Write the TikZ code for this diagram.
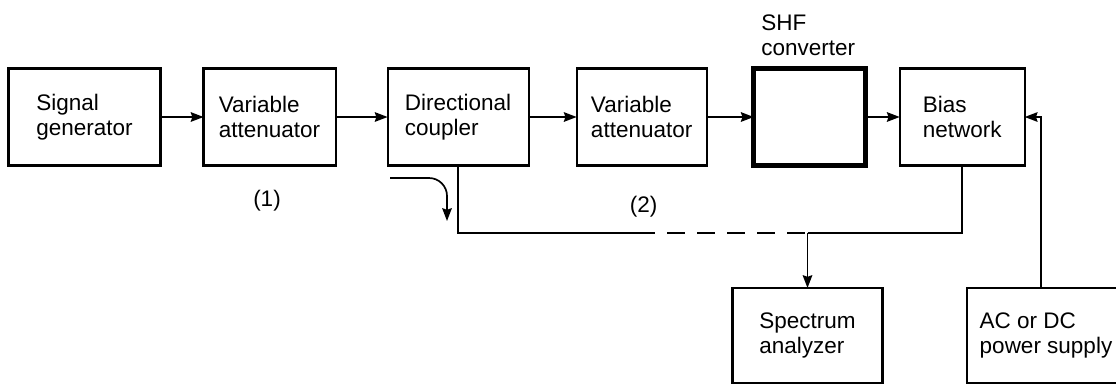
\documentclass[tikz,border=0pt]{standalone}
\usepackage{fontspec}
\setmainfont{Liberation Sans}
\usetikzlibrary{
  arrows.meta,
  positioning,  % right=of x
}
\tikzset{
  font=\fontsize{16}{17.5}\selectfont,
  >={Stealth[length=3.2mm,width=2.4mm,inset=0.4mm]},
  my box/.style={
    draw,
    line width=1.5pt,
    rectangle,
    align=left,
    minimum height=2.425cm,
    inner sep=0mm,
    outer sep=0mm
  },
  my thick box/.style={
    my box,
    line width=3.2pt
  },
  my line/.style={
    line width=1.2pt
  },
  my label/.style={
    inner sep=0.5mm,
    align=left
  },
  my dashes/.style={
    dash pattern=on 0.45cm off 0.3cm,
    dash phase=0.45cm
  }
}

\begin{document}
\begin{tikzpicture}[x=0.025cm,y=-0.025cm,my line]
\useasboundingbox (0,0) rectangle (1116,384);
\clip (0,0) rectangle (1116,384);
% upper chain
\node[my box,minimum width=3.8cm] (sg) at (84.5,117) {Signal\\generator};
\node[my box,minimum width=3.3cm] (va1) [right=1.075cm of sg]  {Variable\\attenuator};
\node[my box,minimum width=3.525cm] (dc)  [right=1.3cm of va1] {Directional\\coupler};
\node[my box,minimum width=3.25cm] (va2) [right=1.2cm of dc]  {Variable\\attenuator};
\node[my thick box,minimum width=2.8cm] (shf) [right=1.175cm of va2] {};
\node[my box,minimum width=3.125cm]  (bias) [right=0.85cm of shf] {Bias\\network};
\node[my label,anchor=south west] (shflbl) at ([xshift=0.12cm,yshift=0.25cm]shf.north west) {SHF\\converter};
% lower boxes
\node[my box,minimum width=3.75cm,minimum height=2.375cm] (sa) at (807.5,335.5) {Spectrum\\analyzer};
\node[my box,minimum width=3.95cm,minimum height=2.375cm]  (ps) at (1046,335.5) {AC or DC\\power supply};
% path numbers
\node[my label] (n1) at (267,201) {(1)};
\node[my label] (n2) at (643.5,207) {(2)};
\path[->]
(sg)  edge (va1)
(va1) edge (dc)
(dc)  edge (va2)
(va2) edge (shf)
(shf) edge (bias);
% coupled output
\coordinate (cpl) at (390,178);
\coordinate (cpe) at (447,221);
\draw[->,rounded corners=0.45cm] (cpl) -| (cpe);
\coordinate (brk) at (655,233);
\coordinate (tap) at (sa.north |- brk);
\draw (dc.south) |- (brk);
\draw[my dashes] (brk) -- (tap);
\draw (tap) -| (bias.south);
\draw[->] (tap) -- (sa.north);
% supply
\draw[->] ([xshift=-1.25mm]ps.north) |- (bias.east);
\end{tikzpicture}
\end{document}
